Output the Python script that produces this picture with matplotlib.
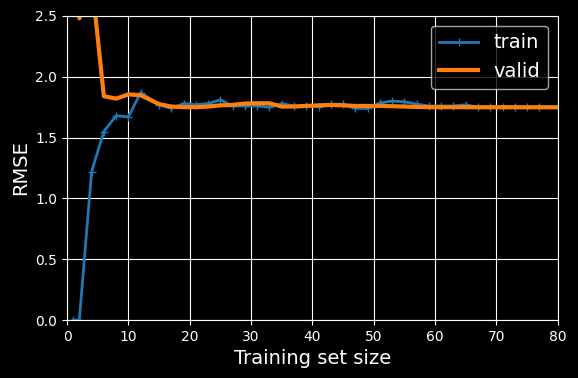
import matplotlib
matplotlib.use("Agg")
import matplotlib.pyplot as plt

plt.style.use("dark_background")

# training set sizes (learning curve, 40 steps up to 80 samples)
train_sizes = [1, 2, 4, 6, 8, 10, 12, 15, 17, 19, 21, 23, 25, 27, 29, 31, 33, 35, 37, 39,
               41, 43, 45, 47, 49, 51, 53, 55, 57, 59, 61, 63, 65, 67, 69, 71, 73, 75, 77, 80]

train_rmse = [0.0, 0.0, 1.22, 1.55, 1.68, 1.67, 1.87, 1.77, 1.74, 1.78, 1.77, 1.78, 1.81, 1.76, 1.76, 1.76, 1.75, 1.78, 1.76, 1.76,
              1.755, 1.775, 1.775, 1.74, 1.74, 1.785, 1.80, 1.795, 1.775, 1.76, 1.76, 1.76, 1.77, 1.75, 1.755, 1.755, 1.755, 1.75, 1.755, 1.75]

valid_rmse = [15.0, 2.48, 2.8, 1.84, 1.82, 1.855, 1.848, 1.775, 1.755, 1.75, 1.75, 1.755, 1.765, 1.768, 1.78, 1.782, 1.782, 1.755, 1.755, 1.76,
              1.765, 1.768, 1.765, 1.76, 1.76, 1.76, 1.758, 1.755, 1.752, 1.75, 1.75, 1.75, 1.75, 1.749, 1.749, 1.749, 1.749, 1.749, 1.749, 1.749]

fig = plt.figure(figsize=(5.78, 3.78), dpi=100)
ax = fig.add_axes([0.116, 0.153, 0.849, 0.805])

ax.plot(train_sizes, train_rmse, "+-", color="#1f77b4", linewidth=2, label="train")
ax.plot(train_sizes, valid_rmse, "-", color="#ff7f0e", linewidth=3, label="valid")

ax.set_xlabel("Training set size", fontsize=14)
ax.set_ylabel("RMSE", fontsize=14)
ax.grid(True)
ax.legend(loc="upper right", fontsize=14)
ax.axis([0, 80, 0, 2.5])

fig.savefig("out.png", dpi=100)
